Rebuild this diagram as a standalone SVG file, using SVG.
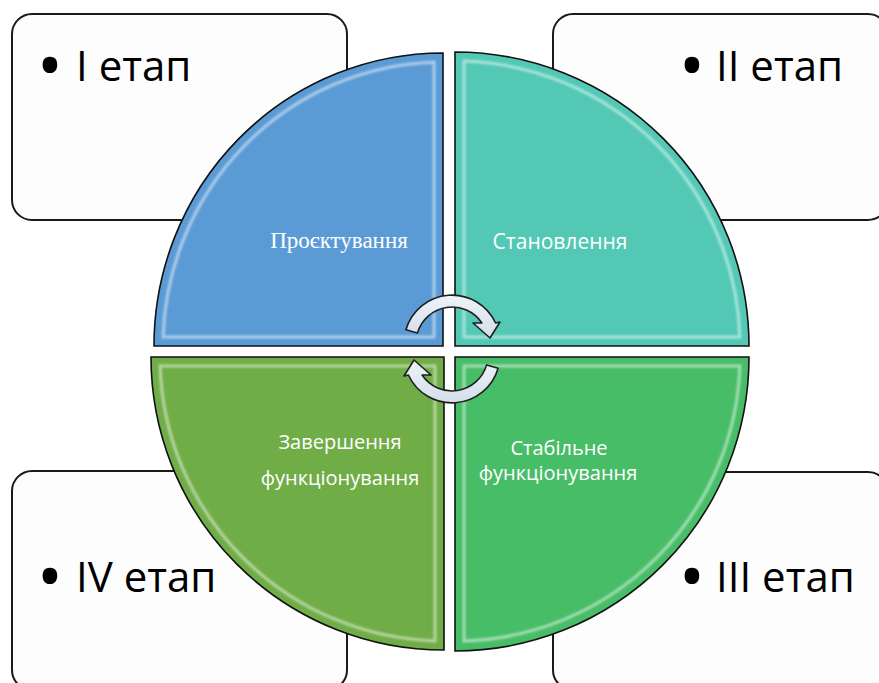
<svg xmlns="http://www.w3.org/2000/svg" width="879" height="683" viewBox="0 0 879 683">
<defs>
<style>
.box{fill:#fdfdfd;stroke:#1a1a1a;stroke-width:2}
.lbl{font-family:"Open Sans","Liberation Sans",sans-serif;font-size:42px;fill:#000}
.bul{font-family:"Open Sans","Liberation Sans",sans-serif;font-size:70px;fill:#000;text-anchor:middle}
.seg{stroke:#111;stroke-width:1.6}
.hl{fill:none;stroke:#ffffff;stroke-width:3;stroke-opacity:0.5;filter:url(#blur)}
.qt{font-family:"Open Sans","Liberation Sans",sans-serif;font-size:20px;fill:#ffffff;text-anchor:middle}
.qs{font-family:"Liberation Serif","Times New Roman",serif;font-size:23px;fill:#ffffff;text-anchor:middle}
.arr{fill:url(#arrg);stroke:#1f1f1f;stroke-width:1.6;stroke-linejoin:round}
</style>
<filter id="blur" x="-5%" y="-5%" width="110%" height="110%"><feGaussianBlur stdDeviation="1.3"/></filter>
<linearGradient id="arrg" x1="0" y1="0" x2="0" y2="1"><stop offset="0" stop-color="#eef3f9"/><stop offset="1" stop-color="#d3deea"/></linearGradient>
</defs>

<g id="box-1"><rect class="box" x="12" y="14" width="335" height="206" rx="20"/><text class="bul" x="50" y="90">•</text><text class="lbl" x="76" y="81">I етап</text></g>
<g id="box-2"><rect class="box" x="553" y="14" width="335" height="206" rx="20"/><text class="bul" x="692" y="90">•</text><text class="lbl" x="716" y="81">II етап</text></g>
<g id="box-3"><rect class="box" x="553" y="472" width="335" height="218" rx="20"/><text class="bul" x="692" y="601">•</text><text class="lbl" x="716" y="592">III етап</text></g>
<g id="box-4"><rect class="box" x="12" y="471" width="335" height="219" rx="20"/><text class="bul" x="50" y="601">•</text><text class="lbl" x="76" y="592">IV етап</text></g>

<g id="seg-1">
<path class="seg" fill="#5b9bd5" d="M443,346 H154 A289,293 0 0 1 443,53 Z"/>
<path class="hl" d="M434,337 H163.1 A280,284 0 0 1 434,62.2 Z"/>
<text class="qs" x="339" y="248">Проєктування</text>
</g>
<g id="seg-2">
<path class="seg" fill="#53c9b5" d="M455,346 V52 A294,294 0 0 1 749,346 Z"/>
<path class="hl" d="M464,337 V61.1 A285,285 0 0 1 739.9,337 Z"/>
<text class="qt" x="560" y="249" style="font-size:21px">Становлення</text>
</g>
<g id="seg-3">
<path class="seg" fill="#48bd68" d="M455,357 H749 A294,294 0 0 1 455,651 Z"/>
<path class="hl" d="M464,366 H739.9 A285,285 0 0 1 464,641.1 Z"/>
<text class="qt" x="559" y="455">Стабільне</text>
<text class="qt" x="558" y="480">функціонування</text>
</g>
<g id="seg-4">
<path class="seg" fill="#70ad47" d="M444,357 H151 A293,293 0 0 0 444,650 Z"/>
<path class="hl" d="M435,366 H160.1 A284,284 0 0 0 435,640.9 Z"/>
<text class="qt" x="340" y="449">Завершення</text>
<text class="qt" x="340" y="485">функціонування</text>
</g>

<g id="connectors">
<path class="arr" d="M405.9,329.8 A48,48 0 0 1 495.6,323 L500,322 L490,338 L473,323 L481.9,323 A36,36 0 0 0 417.4,333.1 Z"/>
<path class="arr" d="M498.1,368.2 A48,48 0 0 1 408.4,375 L404,376 L414,360 L431,375 L422.1,375 A36,36 0 0 0 486.6,364.9 Z"/>
</g>
</svg>
